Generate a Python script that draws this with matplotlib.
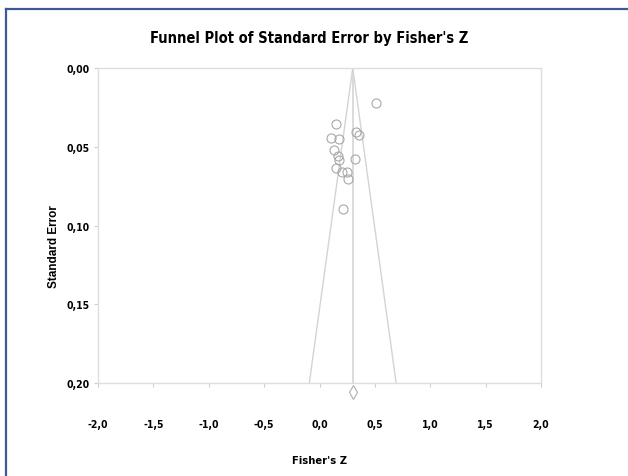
import matplotlib
matplotlib.use("Agg")
import matplotlib.pyplot as plt
from matplotlib.lines import Line2D
from matplotlib.ticker import FuncFormatter
import numpy as np

# Data
fisher_z = [0.51, 0.15, 0.33, 0.36, 0.10, 0.18, 0.13, 0.165, 0.18, 0.32, 0.15, 0.20, 0.25, 0.255, 0.21]
std_err = [0.0224, 0.0356, 0.0405, 0.0424, 0.0446, 0.0451, 0.0519, 0.0559, 0.0582, 0.0578, 0.0637, 0.0660, 0.0658, 0.0705, 0.0893]
mean_z = 0.30
summary_se = 0.206
x_ticks = [-2.0, -1.5, -1.0, -0.5, 0.0, 0.5, 1.0, 1.5, 2.0]
y_ticks = [0.00, 0.05, 0.10, 0.15, 0.20]

narrow = ['DejaVu Sans']
nkw = dict(family=narrow, fontstretch='condensed', fontweight='bold')

fig = plt.figure(figsize=(6.28, 4.77), dpi=100)
ax = fig.add_axes([98/628, 1-384/477, (541-98)/628, (384-69)/477])

grey = '#d4d4d4'
se_line = np.array([0.0, 0.20])
ax.plot(mean_z - 1.96*se_line, se_line, color=grey, lw=1.0)
ax.plot(mean_z + 1.96*se_line, se_line, color=grey, lw=1.0)
ax.plot([mean_z, mean_z], [0.0, 0.20], color=grey, lw=1.2)

ax.plot(fisher_z, std_err, linestyle='none', marker='o', markersize=6.5,
        markerfacecolor='none', markeredgecolor='#a8a8a8', markeredgewidth=0.8)
ax.plot([mean_z], [summary_se], linestyle='none', marker='d', markersize=7,
        markerfacecolor='none', markeredgecolor='#b0b0b0', markeredgewidth=0.8, clip_on=False)

ax.set_xlim(-2.0, 2.0)
ax.set_ylim(0.20, 0.0)
ax.set_xticks(x_ticks)
ax.set_yticks(y_ticks)
ax.xaxis.set_major_formatter(FuncFormatter(lambda v, p: f"{v:.1f}".replace('.', ',')))
ax.yaxis.set_major_formatter(FuncFormatter(lambda v, p: f"{v:.2f}".replace('.', ',')))
for s in ax.spines.values():
    s.set_color('#dedede')
    s.set_linewidth(1.0)
ax.tick_params(axis='x', length=3, color='#cfcfcf', pad=23, direction='out')
ax.tick_params(axis='y', length=3, color='#cfcfcf', pad=3, direction='out')
for lab in ax.get_xticklabels() + ax.get_yticklabels():
    lab.set_family(narrow)
    lab.set_fontstretch('condensed')
    lab.set_fontweight('bold')
    lab.set_fontsize(7.5)

ax.set_xlabel("Fisher's Z", fontsize=8, labelpad=19, **nkw)
ax.set_ylabel("Standard Error", family=['Liberation Sans', 'DejaVu Sans'], fontweight='bold', fontsize=8.5)
ax.yaxis.set_label_coords(-0.086, 0.435)
fig.text(309/628, 1-38/477, "Funnel Plot of Standard Error by Fisher's Z",
         fontsize=10.5, ha='center', va='center', **nkw)

# slide-style border
blue = '#3c5a96'
fig.add_artist(Line2D([6/628, 1.0], [1-10/477, 1-10/477], transform=fig.transFigure, color=blue, lw=1.6))
fig.add_artist(Line2D([6/628, 6/628], [0.0, 1-10/477], transform=fig.transFigure, color=blue, lw=1.6))

fig.savefig('out.png', dpi=100)
